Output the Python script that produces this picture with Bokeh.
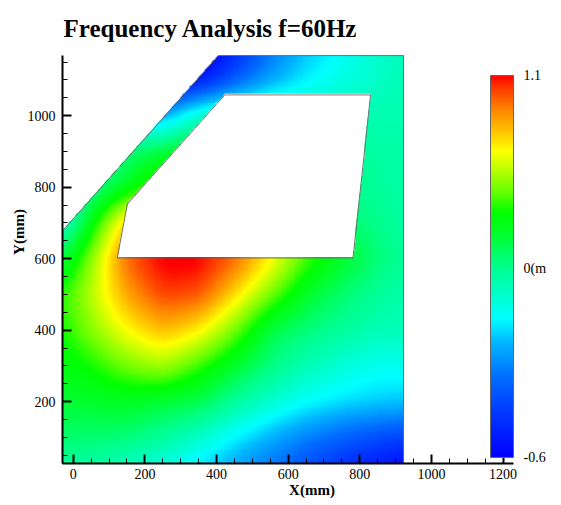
import numpy as np
from bokeh.plotting import figure
from bokeh.models import (LinearColorMapper, ColorBar, FixedTicker,
                          SingleIntervalTicker, Range1d, Label)
from bokeh.embed import file_html
from bokeh.resources import INLINE

# ---------------- data ----------------
title_text = "Frequency Analysis f=60Hz"
x_label = "X(mm)"
y_label = "Y(mm)"
value_min, value_max = -0.6, 1.1
colorbar_ticks = [-0.6, 0.24, 1.1]
colorbar_tick_labels = ["-0.6", "0(m", "1.1"]

# door panel outline (mm) and window cut-out (mm)
outer_x = [-30, 922, 922, 406, -30]
outer_y = [27, 27, 1168, 1168, 678]
window_x = [123, 781, 830, 423, 151]
window_y = [602, 602, 1058, 1058, 753]

# field values at sample nodes (mm)
node_x = [-30, 50, 150, 250, 350, 450, 550, 650, 750, 850, 922]
node_y = [27, 100, 200, 300, 400, 500, 600, 700, 800, 900, 1000, 1100, 1168]
v_y0027 = [0.22, 0.20, 0.15, 0.08, -0.01, -0.12, -0.22, -0.33, -0.42, -0.50, -0.55]
v_y0100 = [0.30, 0.30, 0.28, 0.22, 0.13, 0.01, -0.10, -0.20, -0.28, -0.34, -0.37]
v_y0200 = [0.38, 0.40, 0.42, 0.38, 0.35, 0.22, 0.12, 0.03, -0.02, -0.05, -0.06]
v_y0300 = [0.45, 0.50, 0.60, 0.66, 0.54, 0.40, 0.27, 0.17, 0.10, 0.05, 0.06]
v_y0400 = [0.50, 0.62, 0.77, 0.87, 0.79, 0.60, 0.36, 0.28, 0.22, 0.17, 0.16]
v_y0500 = [0.52, 0.68, 0.90, 1.04, 1.02, 0.82, 0.60, 0.40, 0.30, 0.22, 0.19]
v_y0600 = [0.36, 0.62, 1.00, 1.12, 1.12, 1.00, 0.79, 0.56, 0.41, 0.29, 0.23]
v_y0700 = [0.10, 0.45, 0.85, 1.00, 0.95, 0.85, 0.65, 0.45, 0.30, 0.25, 0.20]
v_y0800 = [0.00, 0.25, 0.42, 0.60, 0.60, 0.50, 0.45, 0.35, 0.26, 0.22, 0.20]
v_y0900 = [-0.10, 0.10, 0.28, 0.38, 0.45, 0.35, 0.30, 0.26, 0.24, 0.20, 0.19]
v_y1000 = [-0.25, -0.20, -0.15, -0.12, 0.12, 0.20, 0.20, 0.18, 0.18, 0.18, 0.18]
v_y1100 = [-0.60, -0.60, -0.60, -0.65, -0.52, -0.30, -0.12, 0.00, 0.07, 0.13, 0.17]
v_y1168 = [-0.70, -0.70, -0.70, -0.72, -0.68, -0.45, -0.22, -0.06, 0.04, 0.12, 0.16]
node_rows = [v_y0027, v_y0100, v_y0200, v_y0300, v_y0400, v_y0500, v_y0600,
             v_y0700, v_y0800, v_y0900, v_y1000, v_y1100, v_y1168]

# ---------------- style ----------------
FONT = "Liberation Serif"
palette_anchors = [
    (0.000, (0, 0, 255)), (0.123, (0, 60, 255)), (0.209, (0, 110, 255)),
    (0.298, (0, 180, 255)), (0.364, (0, 255, 255)), (0.429, (0, 255, 200)),
    (0.510, (0, 255, 130)), (0.589, (0, 255, 40)), (0.641, (0, 255, 0)),
    (0.694, (100, 255, 0)), (0.764, (200, 255, 0)), (0.804, (255, 255, 0)),
    (0.851, (255, 200, 0)), (0.914, (255, 130, 0)), (0.974, (255, 50, 0)),
    (1.000, (255, 0, 0)),
]
pos = np.array([a[0] for a in palette_anchors])
rgb = np.array([a[1] for a in palette_anchors], float)
t = np.linspace(0, 1, 256)
palette = ["#%02x%02x%02x" % tuple(int(round(np.interp(tt, pos, rgb[:, k]))) for k in range(3)) for tt in t]

# ---------------- field ----------------
x0, x1 = min(outer_x), max(outer_x)
y0, y1 = min(outer_y), max(outer_y)
nx, ny = 380, 456
xs = x0 + (np.arange(nx) + 0.5) * (x1 - x0) / nx
ys = y0 + (np.arange(ny) + 0.5) * (y1 - y0) / ny
G = np.array(node_rows, float)
tmp = np.array([np.interp(xs, node_x, row) for row in G])
Z = np.array([np.interp(ys, node_y, tmp[:, j]) for j in range(nx)]).T


def blur(a, sigma, axis):
    r = int(3 * sigma)
    k = np.exp(-0.5 * (np.arange(-r, r + 1) / sigma) ** 2)
    k /= k.sum()
    pw = [(r, r) if ax == axis else (0, 0) for ax in range(2)]
    ap = np.pad(a, pw, mode="edge")
    return np.apply_along_axis(lambda v: np.convolve(v, k, mode="valid"), axis, ap)


sig = 22.0 / ((x1 - x0) / nx)
Z = blur(blur(Z, sig, 1), sig, 0)


def inside(px, py, vx, vy):
    res = np.zeros(px.shape, bool)
    n = len(vx)
    j = n - 1
    for i in range(n):
        xi, yi, xj, yj = vx[i], vy[i], vx[j], vy[j]
        if yi != yj:
            cond = ((yi > py) != (yj > py)) & (px < (xj - xi) * (py - yi) / (yj - yi) + xi)
            res ^= cond
        j = i
    return res


PX, PY = np.meshgrid(xs, ys)
mask = inside(PX, PY, outer_x, outer_y) & ~inside(PX, PY, window_x, window_y)
Z = np.where(mask, Z, np.nan).astype(np.float32)

# ---------------- figure ----------------
W, H = 561, 505
left, bottom = 62, 42
sx = 0.3582  # px per mm
sy = 0.3575
frame_w = W - left
frame_h = H - bottom
xr = Range1d(-30, -30 + frame_w / sx)
yr = Range1d(27, 27 + frame_h / sy)

p = figure(width=W, height=H, x_range=xr, y_range=yr, output_backend="svg",
           toolbar_location=None, title=None,
           min_border_left=left, min_border_bottom=bottom,
           min_border_right=0, min_border_top=0)
p.outline_line_color = None
p.grid.visible = False
p.background_fill_color = "white"
p.border_fill_color = "white"

mapper = LinearColorMapper(palette=palette, low=value_min, high=value_max,
                           nan_color=(0, 0, 0, 0))
p.image(image=[Z], x=x0, y=y0, dw=x1 - x0, dh=y1 - y0, color_mapper=mapper)

p.line(outer_x + [outer_x[0]], outer_y + [outer_y[0]], line_color="#555555", line_width=0.8)
p.line(window_x + [window_x[0]], window_y + [window_y[0]], line_color="#555555", line_width=0.8)

for ax, b in ((p.xaxis[0], (-30, 1229.5)), (p.yaxis[0], (27, 1168))):
    ax.bounds = b
    ax.ticker = SingleIntervalTicker(interval=200, num_minor_ticks=4)
    ax.axis_line_width = 2
    ax.axis_line_color = "black"
    ax.major_tick_in = 9
    ax.major_tick_out = 0
    ax.minor_tick_in = 5
    ax.minor_tick_out = 0
    ax.major_tick_line_width = 2
    ax.major_tick_line_color = "black"
    ax.minor_tick_line_width = 1
    ax.minor_tick_line_color = "black"
    ax.major_label_text_font = FONT
    ax.major_label_text_font_size = "14px"
    ax.major_label_text_color = "black"
    ax.axis_label_text_font = FONT
    ax.axis_label_text_font_size = "15px"
    ax.axis_label_text_font_style = "bold"
    ax.axis_label_text_color = "black"

p.xaxis.axis_label = x_label
p.yaxis.axis_label = y_label
p.xaxis.major_label_standoff = 5
p.xaxis.axis_label_standoff = 0
p.yaxis.major_label_standoff = 7
p.yaxis.axis_label_standoff = -2

cbar = ColorBar(color_mapper=mapper, location=(428, 6), width=23, height=382,
                padding=0, margin=0,
                ticker=FixedTicker(ticks=colorbar_ticks),
                major_label_overrides={k: v for k, v in zip(colorbar_ticks, colorbar_tick_labels)},
                major_label_text_font=FONT, major_label_text_font_size="14px",
                major_label_text_color="black", label_standoff=10,
                major_tick_line_color=None, minor_tick_line_color=None,
                bar_line_color="#666666", bar_line_width=1,
                border_line_color=None, background_fill_alpha=0)
p.add_layout(cbar, "center")

title = Label(x=-30 + 1 / sx, y=27 + (frame_h - 28) / sy, text=title_text,
              text_font=FONT, text_font_size="25px", text_font_style="bold",
              text_color="black", text_baseline="alphabetic", text_align="left")
p.add_layout(title)

open("out.html", "w").write(file_html(p, INLINE))
